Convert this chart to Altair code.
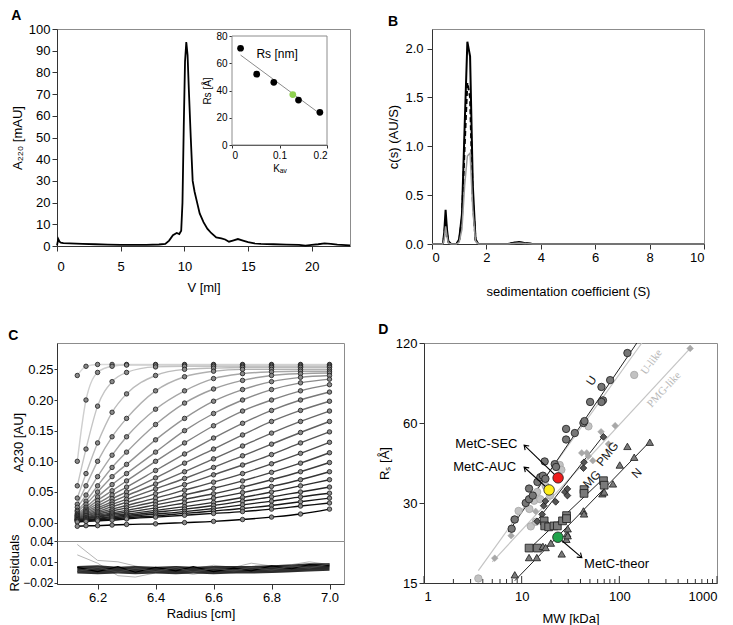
import altair as alt
import pandas as pd

FONT = "Liberation Sans"

# ---------------- Panel A : SEC chromatogram + inset ----------------
sec_v = [0, 0.1, 0.2, 0.3, 0.5, 1, 2, 3, 4, 5, 6, 7, 8, 8.5, 8.8, 9.1, 9.4, 9.6,
         9.75, 9.85, 9.95, 10.05, 10.15, 10.25, 10.35, 10.5, 10.65, 10.8, 11.0,
         11.2, 11.5, 11.8, 12.1, 12.5, 12.9, 13.2, 13.5, 13.8, 14.2, 14.6, 15,
         15.5, 16, 17, 18, 19, 19.5, 20, 20.5, 21, 21.5, 22, 23]
sec_a = [0.3, 3.2, 2.0, 1.5, 1.3, 1.2, 1.0, 0.8, 0.6, 0.5, 0.5, 0.5, 0.7, 1.0,
         2.5, 5.0, 6.0, 5.5, 7.0, 20, 55, 85, 94, 88, 72, 50, 30, 25, 20, 15,
         11, 8, 6, 4, 3.5, 3, 2, 2.5, 3.2, 2.5, 1.8, 1.2, 1.0, 0.8, 0.6, 0.5,
         0.2, 0.5, 0.8, 1.2, 1.0, 0.6, 0.3]

inset_kav = [0.018, 0.052, 0.088, 0.140, 0.185]
inset_rs = [71, 52, 46, 33, 24]
metc_kav = [0.128]
metc_rs = [37]
in_fit_kav = [0.018, 0.185]
in_fit_rs = [66, 23]
inset_text = ["Rs [nm]"]
inset_text_kav = [0.095]
inset_text_rs = [67]

# ---------------- Panel B : c(s) distributions ----------------
b_s = [0, 0.3, 0.4, 0.45, 0.5, 0.55, 0.6, 0.7, 0.9, 1.0, 1.1, 1.2, 1.3, 1.4,
       1.5, 1.6, 1.7, 2.8, 3.0, 3.2, 3.4, 3.7, 10]
b_solid = [0, 0, 0, 0.12, 0.35, 0.15, 0.03, 0, 0, 0.05, 0.3, 1.2, 2.07, 1.92,
           0.6, 0.05, 0, 0, 0.012, 0.02, 0.01, 0, 0]
b_dashed = [0, 0, 0, 0.08, 0.25, 0.1, 0.02, 0, 0, 0.04, 0.25, 1.0, 1.65, 1.5,
            0.45, 0.04, 0, 0, 0.01, 0.015, 0.008, 0, 0]
b_gray = [0, 0, 0, 0.05, 0.18, 0.08, 0.01, 0, 0, 0.02, 0.15, 0.6, 0.9, 0.93,
          0.35, 0.03, 0, 0, 0.005, 0.01, 0.005, 0, 0]

# ---------------- Panel C : SV scans + residuals ----------------
c_radius = [6.13, 6.16, 6.2, 6.25, 6.3, 6.4, 6.5, 6.6, 6.7, 6.8, 6.9, 7.0]
c_scans = [
    [0.24, 0.255, 0.258, 0.258, 0.258, 0.258, 0.258, 0.258, 0.258, 0.258, 0.258, 0.258],
    [0.10, 0.20, 0.245, 0.255, 0.257, 0.257, 0.257, 0.257, 0.257, 0.257, 0.257, 0.257],
    [0.06, 0.12, 0.19, 0.23, 0.245, 0.254, 0.255, 0.255, 0.255, 0.255, 0.255, 0.255],
    [0.04, 0.08, 0.13, 0.18, 0.21, 0.24, 0.25, 0.252, 0.253, 0.253, 0.253, 0.253],
    [0.03, 0.06, 0.10, 0.14, 0.17, 0.215, 0.238, 0.247, 0.25, 0.25, 0.25, 0.25],
    [0.025, 0.045, 0.075, 0.11, 0.14, 0.185, 0.215, 0.235, 0.243, 0.246, 0.247, 0.247],
    [0.02, 0.035, 0.06, 0.09, 0.115, 0.16, 0.195, 0.218, 0.232, 0.24, 0.243, 0.244],
    [0.018, 0.03, 0.05, 0.075, 0.095, 0.135, 0.17, 0.198, 0.217, 0.23, 0.237, 0.24],
    [0.015, 0.025, 0.042, 0.062, 0.08, 0.115, 0.15, 0.178, 0.2, 0.217, 0.228, 0.234],
    [0.013, 0.022, 0.036, 0.052, 0.068, 0.1, 0.13, 0.158, 0.182, 0.2, 0.215, 0.225],
    [0.012, 0.02, 0.031, 0.045, 0.058, 0.085, 0.112, 0.138, 0.162, 0.183, 0.2, 0.213],
    [0.011, 0.018, 0.027, 0.039, 0.05, 0.073, 0.097, 0.12, 0.143, 0.165, 0.183, 0.198],
    [0.01, 0.016, 0.024, 0.034, 0.044, 0.063, 0.083, 0.104, 0.125, 0.146, 0.165, 0.182],
    [0.009, 0.014, 0.021, 0.03, 0.038, 0.055, 0.072, 0.09, 0.109, 0.128, 0.147, 0.165],
    [0.008, 0.012, 0.018, 0.026, 0.033, 0.047, 0.062, 0.078, 0.094, 0.111, 0.13, 0.148],
    [0.007, 0.011, 0.016, 0.022, 0.028, 0.04, 0.053, 0.066, 0.08, 0.096, 0.113, 0.131],
    [0.006, 0.009, 0.014, 0.019, 0.024, 0.034, 0.045, 0.056, 0.068, 0.082, 0.097, 0.114],
    [0.005, 0.008, 0.012, 0.016, 0.02, 0.029, 0.038, 0.047, 0.058, 0.07, 0.083, 0.098],
    [0.005, 0.007, 0.01, 0.014, 0.017, 0.024, 0.032, 0.04, 0.049, 0.059, 0.07, 0.083],
    [0.004, 0.006, 0.009, 0.012, 0.014, 0.02, 0.026, 0.033, 0.041, 0.05, 0.06, 0.07],
    [0.004, 0.005, 0.007, 0.01, 0.012, 0.017, 0.022, 0.028, 0.035, 0.042, 0.05, 0.058],
    [0.003, 0.004, 0.006, 0.008, 0.01, 0.014, 0.018, 0.023, 0.029, 0.035, 0.042, 0.048],
    [0.002, 0.003, 0.005, 0.006, 0.008, 0.011, 0.015, 0.019, 0.023, 0.028, 0.034, 0.04],
    [0.001, 0.002, 0.003, 0.004, 0.006, 0.009, 0.012, 0.015, 0.018, 0.022, 0.027, 0.032],
    [-0.006, -0.005, -0.005, -0.004, -0.003, -0.002, 0.0, 0.002, 0.005, 0.009, 0.014, 0.022],
]
res_radius = [6.13, 6.2, 6.27, 6.33, 6.4, 6.47, 6.53, 6.6, 6.67, 6.73, 6.8, 6.87, 6.93, 7.0]
res_lo = [-0.007, -0.008, -0.007, -0.008, -0.007, -0.008, -0.007, -0.008, -0.007, -0.007, -0.006, -0.005, -0.004, -0.003]
res_hi = [0.004, 0.005, 0.003, 0.004, 0.003, 0.004, 0.003, 0.004, 0.004, 0.004, 0.005, 0.006, 0.008, 0.008]
res_gray1 = [0.035, 0.012, 0.01, 0.004, -0.002, 0.003, 0.0, 0.005, 0.002, 0.008, 0.004, 0.006, 0.01, 0.006]
res_gray2 = [0.02, 0.008, -0.01, -0.012, -0.006, -0.004, -0.008, -0.003, -0.006, -0.002, -0.005, -0.004, 0.0, 0.002]
res_black1 = [0.002, -0.004, 0.003, -0.005, 0.002, -0.003, 0.003, -0.004, 0.001, -0.003, 0.004, 0.0, 0.006, 0.004]
res_black2 = [-0.004, 0.002, -0.005, 0.001, -0.004, 0.002, -0.005, 0.001, -0.003, 0.002, -0.002, 0.004, 0.001, 0.007]

# ---------------- Panel D : Rs vs MW ----------------
u_mw = [7.9, 8.5, 11, 11.9, 11.9, 13, 14.5, 15.5, 16.5, 17.2, 17.5, 21.8, 22.5, 28.5, 28.5, 35, 42.9, 44, 50.2, 65.6, 68, 65.6, 80.5, 121]
u_rs = [24, 26, 30, 34, 31, 32, 36, 37.5, 38, 43, 37, 42, 41, 57, 52, 55, 60, 61, 72, 82, 73, 72, 87, 110]
ul_mw = [3.6, 8.4, 9.3, 12, 12.4, 13.4, 14, 14.4, 15.5, 17.6, 19.5, 24.5, 25.5, 48.3, 142]
ul_rs = [15.6, 26, 28, 28.5, 24.5, 30.6, 25.5, 33, 31, 34.8, 32, 41.7, 40, 58.3, 91]
pl_mw = [5.3, 7.8, 13.4, 13.9, 41.2, 46.4, 48.2, 53.5, 65, 77.4, 90.6, 531]
pl_rs = [18.6, 22.6, 25.2, 27.9, 46.3, 46.3, 45, 43.3, 55.6, 50, 58.6, 114.5]
pmg_mw = [14.4, 16.2, 16.8, 17.5, 22.3, 27.7, 29.4, 29.4, 42.9, 43.5, 68.8]
pmg_rs = [25.6, 27.2, 29.3, 30.5, 30.3, 33, 33.9, 32, 40.6, 42.7, 53.2]
mg_mw = [11.9, 14.5, 17, 17.2, 18.9, 21.4, 23.2, 26.2, 28.8, 28.8, 43.5, 43.5, 68.8, 70]
mg_rs = [20.3, 20.3, 25.7, 24.6, 24.4, 24.6, 24.6, 25.7, 26.9, 26.2, 33.7, 32.6, 36.4, 35]
n_mw = [8.5, 11.9, 14.3, 16.5, 17.6, 19.9, 25.7, 28.7, 29.2, 29.6, 29.6, 42.9, 43.5, 67, 70, 86, 101, 121, 142, 205]
n_rs = [16.1, 18.7, 18.7, 20.6, 20.4, 21.2, 19.3, 21.9, 23, 24, 22.6, 28, 27.3, 32.5, 33, 35.4, 41.7, 49, 44.6, 50.8]

fit_names = ["U", "U", "U-like", "U-like", "PMG-like", "PMG-like", "PMG", "PMG", "MG", "MG", "N", "N"]
fit_mw = [7.3, 151, 3.6, 170, 5.0, 531, 13.5, 68, 11.7, 71, 8.5, 210]
fit_rs = [23.3, 120, 16.7, 120, 18.0, 114.5, 25.0, 53.5, 20.0, 37.5, 15.3, 51.5]

metc_names = ["MetC-SEC", "MetC-AUC", "MetC-theor"]
metc_mw = [23.6, 19.1, 23.5]
metc_rs_d = [37.3, 33.6, 22.3]
metc_colors = ["#ee1c1c", "#ffee1a", "#1fa24a"]
arrow_tip_mw = [10.6, 10.6, 41.3]
arrow_tip_rs = [49.5, 40.9, 18.7]
arrow_angle = [224, 222, 40]
label_mw = [9.5, 9.2, 43.6]
label_rs = [50, 40.9, 17.7]
label_align = ["right", "right", "left"]

line_label = ["U", "U-like", "PMG-like", "PMG", "MG", "N"]
line_label_mw = [51.8, 215, 288, 75.5, 52.3, 150]
line_label_rs = [86.6, 101.6, 80, 45.9, 36.9, 38.9]
line_label_angle = [304, 306, 313, 309, 314, 314]

minor_mw = [2, 3, 4, 5, 6, 7, 8, 9, 20, 30, 40, 50, 60, 70, 80, 90, 200, 300, 400, 500, 600, 700, 800, 900]
major_mw = [1, 10, 100, 1000]

TITLE = dict(anchor="start", frame="bounds", fontSize=14, fontWeight="bold", font=FONT, offset=0)

# ===================== Build Panel A =====================
A_W, A_H = 293, 217
df_sec = pd.DataFrame({"V": sec_v, "A": sec_a})
sec_line = alt.Chart(df_sec).mark_line(color="black", strokeWidth=1.8).encode(
    x=alt.X("V:Q", scale=alt.Scale(domain=[0, 23], nice=False, zero=False),
            axis=alt.Axis(values=[0, 5, 10, 15, 20], title="V [ml]", labelPadding=9, titlePadding=8)),
    y=alt.Y("A:Q", scale=alt.Scale(domain=[0, 100], nice=False),
            axis=alt.Axis(values=list(range(0, 101, 10)), title="A₂₂₀ [mAU]")),
)

IN_X0, IN_X1, IN_Y0, IN_Y1 = 175, 270, 116, 7
ix = dict(scale=alt.Scale(domain=[0, 0.2], range=[IN_X0, IN_X1], nice=False, zero=False),
          axis=alt.Axis(orient="bottom", offset=-(A_H - IN_Y0), values=[0, 0.1, 0.2],
                        title="Kₐᵥ", labelFontSize=10, titleFontSize=10, tickSize=3,
                        titlePadding=3, labelPadding=2, format="~g"))
iy = dict(scale=alt.Scale(domain=[0, 80], range=[IN_Y0, IN_Y1], nice=False),
          axis=alt.Axis(orient="left", offset=-IN_X0, values=[0, 20, 40, 60, 80],
                        title="Rs [Å]", labelFontSize=10, titleFontSize=10, tickSize=3,
                        titlePadding=3, labelPadding=2))

df_frame = pd.DataFrame({"k": [0.0], "k2": [0.2], "r": [0.0], "r2": [80.0]})
in_frame = alt.Chart(df_frame).mark_rect(fill="white", stroke="#8c8c8c", strokeWidth=1).encode(
    x=alt.X("k:Q", **ix), x2="k2:Q", y=alt.Y("r:Q", **iy), y2="r2:Q")
in_fit = alt.Chart(pd.DataFrame({"k": in_fit_kav, "r": in_fit_rs})).mark_line(
    color="#8c8c8c", strokeWidth=1).encode(x=alt.X("k:Q", **ix), y=alt.Y("r:Q", **iy))
in_pts = alt.Chart(pd.DataFrame({"k": inset_kav, "r": inset_rs})).mark_circle(
    size=45, color="black", opacity=1).encode(x=alt.X("k:Q", **ix), y=alt.Y("r:Q", **iy))
in_metc = alt.Chart(pd.DataFrame({"k": metc_kav, "r": metc_rs})).mark_circle(
    size=45, color="#8fd14f", opacity=1).encode(x=alt.X("k:Q", **ix), y=alt.Y("r:Q", **iy))
in_txt = alt.Chart(pd.DataFrame({"k": inset_text_kav, "r": inset_text_rs, "t": inset_text})).mark_text(
    fontSize=12, font=FONT, align="center").encode(
    x=alt.X("k:Q", **ix), y=alt.Y("r:Q", **iy), text="t:N")
inset = alt.layer(in_frame, in_fit, in_pts, in_metc, in_txt)

panel_a = alt.layer(sec_line, inset).resolve_scale(x="independent", y="independent").properties(
    width=A_W, height=A_H, title=alt.Title("A", **TITLE))

# ===================== Build Panel B =====================
B_W, B_H = 272, 215
bx = dict(scale=alt.Scale(domain=[0, 10], nice=False),
          axis=alt.Axis(values=[0, 2, 4, 6, 8, 10], title="sedimentation coefficient (S)",
                        labelPadding=2, titlePadding=21))
by = dict(scale=alt.Scale(domain=[0, 2.2], nice=False),
          axis=alt.Axis(values=[0, 0.5, 1.0, 1.5, 2.0], format=".1f", title="c(s) (AU/S)",
                        labelPadding=4))
df_b = pd.DataFrame({"s": b_s, "solid": b_solid, "dashed": b_dashed, "gray": b_gray})
b1 = alt.Chart(df_b).mark_line(color="black", strokeWidth=2).encode(
    x=alt.X("s:Q", **bx), y=alt.Y("solid:Q", **by))
b2 = alt.Chart(df_b).mark_line(color="black", strokeWidth=2, strokeDash=[5, 3]).encode(
    x=alt.X("s:Q", **bx), y=alt.Y("dashed:Q", **by))
b3 = alt.Chart(df_b).mark_line(color="#9a9a9a", strokeWidth=1.5).encode(
    x=alt.X("s:Q", **bx), y=alt.Y("gray:Q", **by))
panel_b = alt.layer(b1, b2, b3).properties(width=B_W, height=B_H, title=alt.Title("B", **TITLE))

# ===================== Build Panel C =====================
C_W, C_H, CR_H = 287, 198, 43
rows = []
for i, scan in enumerate(c_scans):
    for r, a in zip(c_radius, scan):
        rows.append({"scan": i, "r": r, "a": a})
df_c = pd.DataFrame(rows)
cx_scale = alt.Scale(domain=[6.06, 7.05], nice=False, zero=False)
c_yaxis = alt.Axis(values=[0, 0.05, 0.1, 0.15, 0.2, 0.25], format=".2f", title="A230 [AU]",
                   titlePadding=2, labelPadding=1, tickSize=3)
c_yscale = alt.Scale(domain=[-0.03, 0.293], nice=False)
c_lines = alt.Chart(df_c).mark_line(strokeWidth=1.4, interpolate="monotone").encode(
    x=alt.X("r:Q", scale=cx_scale, axis=None),
    y=alt.Y("a:Q", scale=c_yscale, axis=c_yaxis),
    color=alt.Color("scan:Q", scale=alt.Scale(range=["#d9d9d9", "#000000"]), legend=None),
    detail="scan:N")
c_pts = alt.Chart(df_c).mark_circle(size=20, fill="#8a8a8a", stroke="#1a1a1a", strokeWidth=0.8, opacity=1).encode(
    x=alt.X("r:Q", scale=cx_scale, axis=None),
    y=alt.Y("a:Q", scale=c_yscale, axis=c_yaxis))
c_main = alt.layer(c_lines, c_pts).properties(width=C_W, height=C_H)

df_res = pd.DataFrame({"r": res_radius, "lo": res_lo, "hi": res_hi, "g1": res_gray1, "g2": res_gray2,
                       "k1": res_black1, "k2": res_black2, "z": [0.0] * len(res_radius)})
rx = dict(scale=cx_scale, axis=alt.Axis(values=[6.2, 6.4, 6.6, 6.8, 7.0], format=".1f", title="Radius [cm]",
                                        labelPadding=2, titlePadding=3))
ry = dict(scale=alt.Scale(domain=[-0.022, 0.04], nice=False),
          axis=alt.Axis(values=[-0.02, 0.01, 0.04], format=".2f", title="Residuals",
                        labelFontSize=12, titleFontSize=13, titlePadding=1, labelPadding=1, tickSize=3))
r_zero = alt.Chart(df_res).mark_line(color="#cccccc", strokeWidth=1).encode(
    x=alt.X("r:Q", **rx), y=alt.Y("z:Q", **ry))
r_g1 = alt.Chart(df_res).mark_line(color="#b5b5b5", strokeWidth=1).encode(
    x=alt.X("r:Q", **rx), y=alt.Y("g1:Q", **ry))
r_g2 = alt.Chart(df_res).mark_line(color="#b5b5b5", strokeWidth=1).encode(
    x=alt.X("r:Q", **rx), y=alt.Y("g2:Q", **ry))
r_band = alt.Chart(df_res).mark_area(color="#1a1a1a", opacity=0.9).encode(
    x=alt.X("r:Q", **rx), y=alt.Y("lo:Q", **ry), y2="hi:Q")
r_k1 = alt.Chart(df_res).mark_line(color="#000000", strokeWidth=1.2).encode(
    x=alt.X("r:Q", **rx), y=alt.Y("k1:Q", **ry))
r_k2 = alt.Chart(df_res).mark_line(color="#444444", strokeWidth=1.2).encode(
    x=alt.X("r:Q", **rx), y=alt.Y("k2:Q", **ry))
c_res = alt.layer(r_zero, r_g1, r_g2, r_band, r_k1, r_k2).properties(width=C_W, height=CR_H)

panel_c = alt.vconcat(c_main, c_res, spacing=0, bounds="flush").properties(title=alt.Title("C", **TITLE))

# ===================== Build Panel D =====================
D_W, D_H = 293, 240
dx = dict(scale=alt.Scale(type="log", domain=[1, 1000], nice=False),
          axis=alt.Axis(values=[1, 10, 100, 1000], format="d", title="MW [kDa]", ticks=False,
                        labelPadding=7, titlePadding=9))
dy = dict(scale=alt.Scale(type="log", domain=[15, 120], nice=False),
          axis=alt.Axis(values=[15, 30, 60, 120], format="d", title="Rₛ [Å]"))

df_fit = pd.DataFrame({"name": fit_names, "mw": fit_mw, "rs": fit_rs})
fit_dark = alt.Chart(df_fit[df_fit["name"].isin(["U", "PMG", "MG", "N"])]).mark_line(
    color="#222222", strokeWidth=1).encode(x=alt.X("mw:Q", **dx), y=alt.Y("rs:Q", **dy), detail="name:N")
fit_light = alt.Chart(df_fit[df_fit["name"].isin(["U-like", "PMG-like"])]).mark_line(
    color="#c4c4c4", strokeWidth=1.2).encode(x=alt.X("mw:Q", **dx), y=alt.Y("rs:Q", **dy), detail="name:N")


def pts(mw, rs, shape, fill, stroke, size, sw=0.8):
    return alt.Chart(pd.DataFrame({"mw": mw, "rs": rs})).mark_point(
        shape=shape, filled=True, fill=fill, stroke=stroke, strokeWidth=sw, size=size, opacity=1).encode(
        x=alt.X("mw:Q", **dx), y=alt.Y("rs:Q", **dy))


d_pl = pts(pl_mw, pl_rs, "diamond", "#a8a8a8", "#a8a8a8", 45, 0.5)
d_ul = pts(ul_mw, ul_rs, "circle", "#c2c2c2", "#a5a5a5", 55)
d_pmg = pts(pmg_mw, pmg_rs, "diamond", "#555555", "#1a1a1a", 45)
d_u = pts(u_mw, u_rs, "circle", "#767676", "#1a1a1a", 55)
d_mg = pts(mg_mw, mg_rs, "square", "#7a7a7a", "#1a1a1a", 60)
d_n = pts(n_mw, n_rs, "triangle-up", "#7a7a7a", "#1a1a1a", 55)

df_metc = pd.DataFrame({"name": metc_names, "mw": metc_mw, "rs": metc_rs_d, "c": metc_colors,
                        "tmw": arrow_tip_mw, "trs": arrow_tip_rs, "ang": arrow_angle,
                        "lmw": label_mw, "lrs": label_rs, "al": label_align})
arrows_rows = []
for i in range(3):
    arrows_rows.append({"name": metc_names[i], "mw": metc_mw[i], "rs": metc_rs_d[i]})
    arrows_rows.append({"name": metc_names[i], "mw": arrow_tip_mw[i], "rs": arrow_tip_rs[i]})
d_arrow = alt.Chart(pd.DataFrame(arrows_rows)).mark_line(color="black", strokeWidth=1.1).encode(
    x=alt.X("mw:Q", **dx), y=alt.Y("rs:Q", **dy), detail="name:N")
d_head = alt.Chart(df_metc).mark_point(
    shape="M -1 -0.7 L 0 0 L -1 0.7", filled=False, stroke="black", strokeWidth=1.1, size=70, opacity=1).encode(
    x=alt.X("tmw:Q", **dx), y=alt.Y("trs:Q", **dy), angle=alt.Angle("ang:Q", scale=None))
d_metc = alt.Chart(df_metc).mark_circle(size=110, stroke="#1a1a1a", strokeWidth=0.8, opacity=1).encode(
    x=alt.X("mw:Q", **dx), y=alt.Y("rs:Q", **dy), fill=alt.Fill("c:N", scale=None))
d_lab_r = alt.Chart(df_metc[df_metc["al"] == "right"]).mark_text(
    align="right", baseline="middle", fontSize=13, font=FONT, dx=-2).encode(
    x=alt.X("lmw:Q", **dx), y=alt.Y("lrs:Q", **dy), text="name:N")
d_lab_l = alt.Chart(df_metc[df_metc["al"] == "left"]).mark_text(
    align="left", baseline="middle", fontSize=13, font=FONT).encode(
    x=alt.X("lmw:Q", **dx), y=alt.Y("lrs:Q", **dy), text="name:N")

df_ll = pd.DataFrame({"t": line_label, "mw": line_label_mw, "rs": line_label_rs, "ang": line_label_angle})
d_ll_dark = alt.Chart(df_ll[df_ll["t"].isin(["U", "PMG", "MG", "N"])]).mark_text(
    fontSize=12, font=FONT, color="#1a1a1a").encode(
    x=alt.X("mw:Q", **dx), y=alt.Y("rs:Q", **dy), text="t:N", angle=alt.Angle("ang:Q", scale=None))
d_ll_light = alt.Chart(df_ll[df_ll["t"].isin(["U-like", "PMG-like"])]).mark_text(
    fontSize=11, font="Liberation Serif", color="#b8b8b8").encode(
    x=alt.X("mw:Q", **dx), y=alt.Y("rs:Q", **dy), text="t:N", angle=alt.Angle("ang:Q", scale=None))

d_minor = alt.Chart(pd.DataFrame({"mw": minor_mw})).mark_rule(color="#333", strokeWidth=1).encode(
    x=alt.X("mw:Q", **dx), y=alt.value(D_H), y2=alt.value(D_H - 4))
d_major = alt.Chart(pd.DataFrame({"mw": major_mw})).mark_rule(color="#333", strokeWidth=1).encode(
    x=alt.X("mw:Q", **dx), y=alt.value(D_H), y2=alt.value(D_H - 7))

panel_d = alt.layer(fit_light, fit_dark, d_pl, d_ul, d_pmg, d_u, d_mg, d_n, d_arrow, d_head,
                    d_metc, d_lab_r, d_lab_l, d_ll_dark, d_ll_light, d_minor, d_major).properties(
    width=D_W, height=D_H, title=alt.Title("D", **TITLE))

row1 = alt.hconcat(panel_a, panel_b, spacing=32)
row2 = alt.hconcat(panel_c, panel_d, spacing=32)
chart = alt.vconcat(row1, row2, spacing=23).properties(
    padding={"left": 0, "top": 0, "right": 0, "bottom": 0}
).configure(font=FONT).configure_view(
    stroke="#8c8c8c", strokeWidth=1
).configure_axis(
    labelFont=FONT, titleFont=FONT, labelFontSize=13, titleFontSize=13,
    titleFontWeight="normal", labelColor="black", titleColor="black",
    grid=False, domainColor="#333333", tickColor="#333333", tickSize=5
)

chart.save("out.html", embed_options={"renderer": "svg", "actions": False})
